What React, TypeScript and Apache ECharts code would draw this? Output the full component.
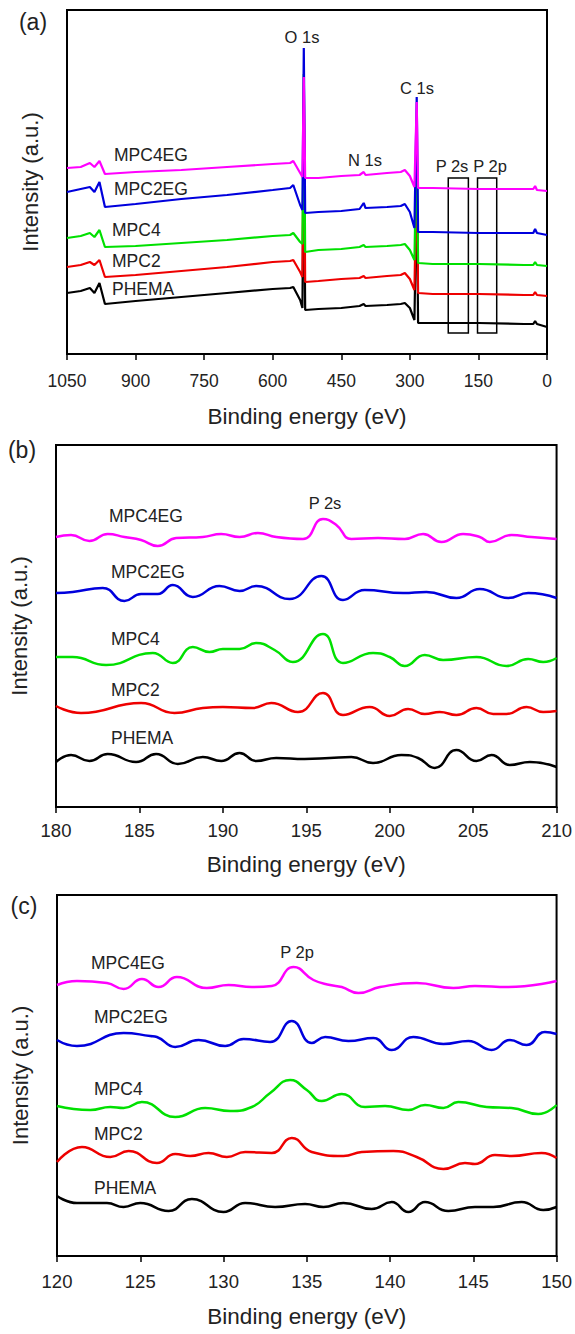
import React, { useEffect, useRef } from "react";
import * as echarts from "echarts";

const FONT = '"Liberation Sans", Arial, sans-serif';
const TEXT = "#222";

const NAMES = ["PHEMA", "MPC2", "MPC4", "MPC2EG", "MPC4EG"];
const COLORS = ["#000000", "#ee0000", "#00e000", "#0000dd", "#ff00ff"];

// ---------- Panel (a): survey spectra ----------
const A_E = [1050, 1020, 1000, 990, 979, 967, 900, 800, 700, 600, 562, 555, 540, 535, 532, 529, 500, 450, 410, 401, 397, 350, 320, 311, 300, 290, 285, 282, 250, 150, 50, 30, 26, 22, 0];
const A_PHEMA = [61, 63, 66, 61, 71, 50, 53, 57, 61, 65, 66, 67, 54, 46, 220, 44, 45, 46, 48, 50, 48, 49, 50, 51, 46, 34, 170, 31, 31, 31, 30, 30, 33, 30, 27];
const A_MPC2 = [87, 89, 92, 89, 94, 77, 79, 83, 87, 92, 93, 94, 82, 77, 250, 72, 73, 75, 76, 78, 76, 78, 79, 81, 75, 64, 190, 61, 60, 60, 59, 59, 62, 59, 58];
const A_MPC4 = [116, 118, 121, 117, 124, 107, 108, 111, 114, 118, 119, 121, 112, 110, 280, 102, 104, 105, 107, 109, 107, 108, 109, 110, 104, 94, 220, 91, 90, 90, 89, 89, 92, 89, 88];
const A_MPC2EG = [162, 165, 167, 162, 172, 147, 150, 155, 159, 164, 166, 169, 149, 144, 306, 141, 142, 143, 145, 151, 146, 147, 148, 150, 142, 126, 257, 122, 122, 121, 121, 121, 125, 121, 119];
const A_MPC4EG = [186, 187, 191, 187, 193, 180, 182, 184, 187, 190, 191, 193, 181, 177, 277, 176, 176, 178, 179, 182, 179, 181, 182, 184, 178, 167, 252, 166, 166, 165, 165, 165, 168, 164, 163];
const A_BOX_P2S = [216, 172];
const A_BOX_P2P = [152, 110];
const A_BOX_Y = [21, 176];

// ---------- Panel (b): P 2s ----------
const B_PHEMA_E = [180, 180.9, 182, 183.1, 184.8, 186, 187.3, 188.8, 189.9, 191, 192, 193.2, 194.9, 196.4, 197.7, 199, 200.7, 201.7, 202.7, 204, 205.2, 206.1, 207.2, 208.4, 210];
const B_PHEMA_V = [45, 52, 46, 53, 45, 53, 43, 50, 46, 54, 46, 49, 48, 49, 50, 44, 52, 49, 39, 57, 46, 52, 42, 45, 40];
const B_MPC2_E = [180, 181.5, 185.1, 187.1, 188.8, 190, 191.8, 192.9, 194.5, 196, 197.2, 198.8, 200, 201.1, 202.1, 203, 204, 205.2, 206.2, 207, 208.2, 209.2, 210];
const B_MPC2_V = [101, 94, 104, 94, 99, 100, 99, 104, 95, 114, 92, 100, 91, 98, 93, 95, 92, 99, 93, 93, 100, 95, 96];
const B_MPC4_E = [180, 181, 183, 185.8, 187, 188.2, 189.2, 190, 191, 192, 193.1, 194.2, 196, 197.2, 199, 200, 200.9, 202.1, 203.2, 205.2, 207, 208.3, 209.2, 210];
const B_MPC4_V = [150, 150, 142, 154, 144, 160, 155, 158, 158, 164, 157, 145, 173, 144, 154, 150, 141, 152, 147, 150, 141, 148, 145, 149];
const B_MPC2EG_E = [180, 181, 182.8, 184.1, 185.1, 186.1, 187, 188.2, 189.8, 191, 192, 194, 195.9, 197.2, 198.5, 200.8, 202.2, 204, 205.4, 207.1, 208.3, 210];
const B_MPC2EG_V = [214, 215, 219, 206, 213, 213, 222, 210, 221, 216, 221, 208, 231, 207, 217, 214, 215, 209, 218, 209, 214, 209];
const B_MPC4EG_E = [180, 180.9, 182, 183.1, 184.1, 185.1, 186.1, 187.2, 188.8, 189.9, 191, 192.1, 193.2, 194.8, 196, 196.8, 197.7, 199.3, 200.9, 202, 203.1, 204.4, 205.4, 206, 207.3, 208.5, 210];
const B_MPC4EG_V = [270, 272, 266, 273, 270, 267, 261, 269, 270, 273, 270, 274, 270, 268, 288, 282, 268, 269, 268, 273, 265, 273, 270, 265, 272, 270, 268];

// ---------- Panel (c): P 2p ----------
const C_PHEMA_E = [120, 121.2, 123, 124, 125, 126.7, 128.1, 130, 131.3, 133.1, 134.9, 136, 137.2, 138.9, 140.1, 141.1, 142.1, 143.5, 145.1, 146.2, 147.9, 149.2, 150];
const C_PHEMA_V = [60, 53, 53, 49, 53, 45, 57, 44, 53, 49, 52, 49, 53, 47, 54, 44, 54, 45, 49, 49, 54, 46, 49];
const C_MPC2_E = [120, 121.5, 123.2, 124.3, 126, 127.1, 128, 129.1, 130.2, 131.3, 132.9, 134.1, 135.3, 137.2, 138.3, 140.2, 141.6, 143.2, 144.5, 145.1, 146.3, 147.3, 149.1, 150];
const C_MPC2_V = [94, 109, 99, 105, 93, 102, 100, 103, 99, 104, 103, 118, 104, 100, 104, 105, 99, 87, 93, 92, 101, 100, 103, 98];
const C_MPC4_E = [120, 122, 123.2, 124, 125.1, 127.1, 128.9, 130.4, 131.7, 132.8, 134, 135, 135.9, 137.1, 138.5, 139.7, 141.1, 142.1, 143.2, 144.1, 145.8, 147.3, 148.9, 150];
const C_MPC4_V = [150, 146, 149, 148, 154, 139, 148, 145, 149, 163, 176, 166, 155, 162, 149, 150, 146, 151, 148, 154, 149, 148, 142, 151];
const C_MPC2EG_E = [120, 121.2, 124, 125.6, 126, 127.1, 128.5, 130.1, 131.2, 132.8, 134.1, 135.3, 136.1, 137.5, 139, 140.1, 141.4, 143.2, 144.7, 146.1, 147.2, 148.2, 149.3, 150];
const C_MPC2EG_V = [216, 210, 223, 220, 219, 209, 216, 210, 217, 214, 235, 213, 219, 215, 218, 206, 219, 212, 215, 206, 216, 211, 224, 222];
const C_MPC4EG_E = [120, 121.2, 123, 124, 125.1, 126.1, 127.2, 129, 130.3, 131.7, 132.9, 134.2, 135.4, 136.4, 137.1, 138.1, 139.4, 141.6, 143.8, 145.1, 147.1, 150];
const C_MPC4EG_V = [271, 275, 273, 267, 277, 269, 279, 268, 271, 269, 270, 289, 276, 271, 269, 263, 269, 273, 268, 270, 269, 275];

const zip = (xs: number[], ys: number[]) => xs.map((x, i) => [x, ys[i]]);

type Panel = {
  grid: { left: number; right: number; top: number; height: number };
  x: { min: number; max: number; interval: number; inverse: boolean; margin: number; nameGap: number; fontSize: number };
  yMax: number;
  series: number[][][];
  smooth: number | false;
  width: number;
};

const panels: Panel[] = [
  {
    grid: { left: 67, right: 28, top: 10, height: 344 },
    x: { min: 0, max: 1050, interval: 150, inverse: true, margin: 18, nameGap: 51, fontSize: 17.5 },
    yMax: 344,
    series: [A_PHEMA, A_MPC2, A_MPC4, A_MPC2EG, A_MPC4EG].map((v) => zip(A_E, v)),
    smooth: false,
    width: 2.2,
  },
  {
    grid: { left: 56, right: 18, top: 445, height: 362 },
    x: { min: 180, max: 210, interval: 5, inverse: false, margin: 14, nameGap: 46, fontSize: 18.5 },
    yMax: 362,
    series: [
      zip(B_PHEMA_E, B_PHEMA_V),
      zip(B_MPC2_E, B_MPC2_V),
      zip(B_MPC4_E, B_MPC4_V),
      zip(B_MPC2EG_E, B_MPC2EG_V),
      zip(B_MPC4EG_E, B_MPC4EG_V),
    ],
    smooth: 0.5,
    width: 2.5,
  },
  {
    grid: { left: 57, right: 17, top: 895, height: 361 },
    x: { min: 120, max: 150, interval: 5, inverse: false, margin: 16, nameGap: 49, fontSize: 18.5 },
    yMax: 361,
    series: [
      zip(C_PHEMA_E, C_PHEMA_V),
      zip(C_MPC2_E, C_MPC2_V),
      zip(C_MPC4_E, C_MPC4_V),
      zip(C_MPC2EG_E, C_MPC2EG_V),
      zip(C_MPC4EG_E, C_MPC4EG_V),
    ],
    smooth: 0.5,
    width: 2.5,
  },
];

// label anchors (left x, middle y) per panel, in series order PHEMA..MPC4EG
const LABEL_POS = [
  [[112, 289], [112, 261], [112, 230], [114, 189], [114, 155]],
  [[111, 738], [111, 690], [111, 639], [111, 572], [109, 516]],
  [[94, 1188], [94, 1134], [94, 1089], [94, 1017], [91, 963]],
];
const PEAKS: [string, number, number][] = [
  ["O 1s", 302, 37],
  ["C 1s", 417, 88],
  ["N 1s", 365, 160],
  ["P 2s", 452, 166],
  ["P 2p", 490, 166],
  ["P 2s", 325, 503],
  ["P 2p", 297, 952],
];
const LETTERS: [string, number, number][] = [
  ["(a)", 33, 22],
  ["(b)", 22, 450],
  ["(c)", 24, 906],
];

export default function App() {
  const ref = useRef<HTMLDivElement>(null);
  useEffect(() => {
    if (!ref.current) return;
    const chart = echarts.init(ref.current, null, { renderer: "svg" });

    const grid = panels.map((p) => ({
      ...p.grid,
      show: true,
      borderColor: "#000",
      borderWidth: 2,
      backgroundColor: "transparent",
    }));
    const xAxis = panels.map((p, i) => ({
      type: "value",
      gridIndex: i,
      min: p.x.min,
      max: p.x.max,
      interval: p.x.interval,
      inverse: p.x.inverse,
      name: "Binding energy (eV)",
      nameLocation: "middle",
      nameGap: p.x.nameGap,
      nameTextStyle: { fontSize: 22.5, color: TEXT, fontFamily: FONT },
      axisLine: { show: true, lineStyle: { color: "#000", width: 2 } },
      axisTick: { show: true, inside: false, length: 6, lineStyle: { color: "#000", width: 1.5 } },
      axisLabel: {
        fontSize: p.x.fontSize,
        color: TEXT,
        fontFamily: FONT,
        margin: p.x.margin,
        formatter: (v: number) => String(v),
      },
      splitLine: { show: false },
    }));
    const yAxis = panels.map((p, i) => ({
      type: "value",
      gridIndex: i,
      min: 0,
      max: p.yMax,
      name: "Intensity (a.u.)",
      nameLocation: "middle",
      nameGap: 26,
      nameTextStyle: { fontSize: 22, color: TEXT, fontFamily: FONT },
      axisLine: { show: false },
      axisTick: { show: false },
      axisLabel: { show: false },
      splitLine: { show: false },
    }));

    const series: any[] = [];
    panels.forEach((p, pi) => {
      p.series.forEach((data, si) => {
        const s: any = {
          type: "line",
          name: NAMES[si] + "_" + pi,
          xAxisIndex: pi,
          yAxisIndex: pi,
          data,
          showSymbol: false,
          smooth: p.smooth,
          lineStyle: { color: COLORS[si], width: p.width },
          itemStyle: { color: COLORS[si] },
          z: 2 + si,
        };
        if (pi === 0 && si === 0) {
          s.markArea = {
            silent: true,
            itemStyle: { color: "rgba(0,0,0,0)", borderColor: "#000", borderWidth: 1.5 },
            data: [A_BOX_P2S, A_BOX_P2P].map((b) => [
              { coord: [b[0], A_BOX_Y[1]] },
              { coord: [b[1], A_BOX_Y[0]] },
            ]),
          };
        }
        series.push(s);
      });
    });

    const graphic: any[] = [];
    LABEL_POS.forEach((row) =>
      row.forEach((pos, si) =>
        graphic.push({
          type: "text",
          x: pos[0],
          y: pos[1],
          z: 100,
          style: {
            text: NAMES[si],
            font: `17.5px ${FONT}`,
            fill: TEXT,
            textAlign: "left",
            textVerticalAlign: "middle",
          },
        })
      )
    );
    PEAKS.forEach(([t, x, y]) =>
      graphic.push({
        type: "text",
        x,
        y,
        z: 100,
        style: { text: t, font: `16.5px ${FONT}`, fill: TEXT, textAlign: "center", textVerticalAlign: "middle" },
      })
    );
    LETTERS.forEach(([t, x, y]) =>
      graphic.push({
        type: "text",
        x,
        y,
        z: 100,
        style: { text: t, font: `23px ${FONT}`, fill: TEXT, textAlign: "center", textVerticalAlign: "middle" },
      })
    );

    chart.setOption({
      animation: false,
      backgroundColor: "#fff",
      grid,
      xAxis,
      yAxis,
      series,
      graphic,
    });
    return () => chart.dispose();
  }, []);

  return (
    <div
      ref={ref}
      style={{ position: "absolute", left: 0, top: 0, width: 575, height: 1334 }}
    />
  );
}
